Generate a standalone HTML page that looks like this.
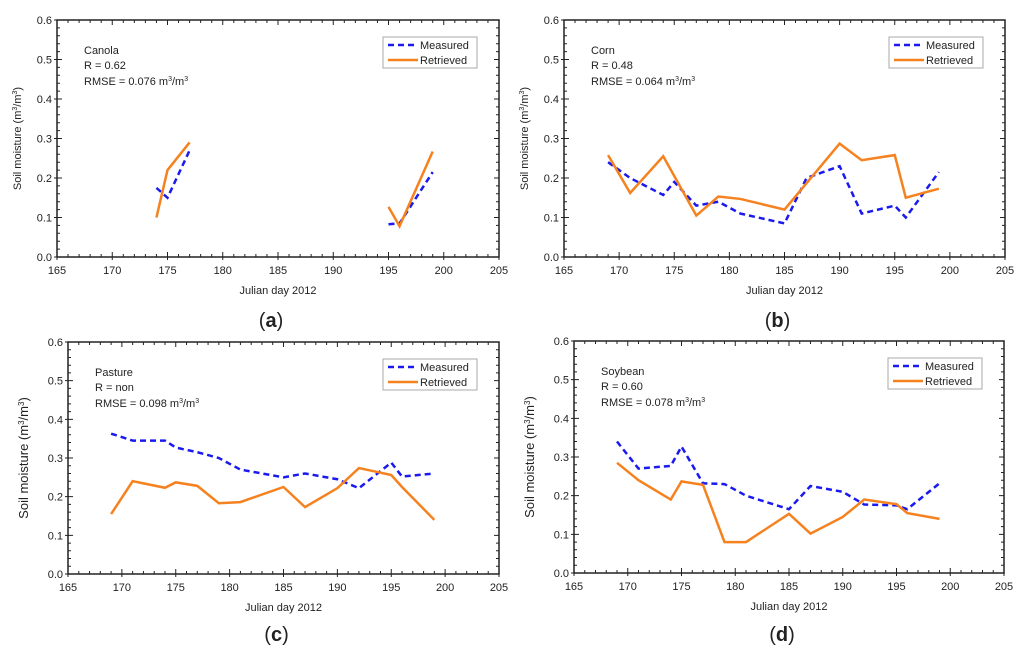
<!DOCTYPE html>
<html><head><meta charset="utf-8"><style>
html,body{margin:0;padding:0;background:#fff;width:1024px;height:658px;overflow:hidden}
svg{display:block}
text{font-family:"Liberation Sans",Arial,sans-serif;fill:#222}
</style></head><body>
<svg id="fig" width="1024" height="658" viewBox="0 0 1024 658" xmlns="http://www.w3.org/2000/svg"></svg>
<script>
const xTicks=[165,170,175,180,185,190,195,200,205];
const yTicks=[0.0,0.1,0.2,0.3,0.4,0.5,0.6];
const crops=["Canola","Corn","Pasture","Soybean"];
const rValues=["0.62","0.48","non","0.60"];
const rmseValues=["0.076","0.064","0.098","0.078"];
const panelLetters=["a","b","c","d"];
const aDays=[174,175,177,null,195,196,199];
const aMeasured=[0.175,0.15,0.27,null,0.083,0.085,0.215];
const aRetrieved=[0.10,0.22,0.29,null,0.127,0.078,0.267];
const bDaysM=[169,171,174,175,177,179,181,185,187,190,192,195,196,199];
const bMeasured=[0.24,0.20,0.157,0.19,0.13,0.14,0.11,0.085,0.20,0.23,0.11,0.13,0.10,0.215];
const bDaysR=[169,171,174,177,179,181,185,190,192,195,196,199];
const bRetrieved=[0.258,0.162,0.255,0.105,0.153,0.147,0.12,0.287,0.245,0.258,0.15,0.173];
const cdDays=[169,171,174,175,177,179,181,185,187,190,192,195,196,199];
const cMeasured=[0.363,0.345,0.345,0.327,0.315,0.30,0.27,0.25,0.26,0.245,0.222,0.288,0.252,0.26];
const cRetrieved=[0.155,0.24,0.223,0.237,0.228,0.183,0.186,0.225,0.173,0.222,0.274,0.256,0.225,0.14];
const dMeasured=[0.34,0.27,0.277,0.327,0.232,0.23,0.20,0.165,0.225,0.21,0.177,0.175,0.165,0.232];
const dRetrieved=[0.285,0.24,0.19,0.237,0.228,0.08,0.08,0.153,0.102,0.145,0.19,0.178,0.155,0.14];

const panels=[
 {L:57,R:499,T:20,B:257,mx:aDays,my:aMeasured,rx:aDays,ry:aRetrieved},
 {L:564,R:1005,T:20,B:257,mx:bDaysM,my:bMeasured,rx:bDaysR,ry:bRetrieved},
 {L:68,R:499,T:342,B:574,mx:cdDays,my:cMeasured,rx:cdDays,ry:cRetrieved},
 {L:574,R:1004,T:341,B:573,mx:cdDays,my:dMeasured,rx:cdDays,ry:dRetrieved}
];
const svg=document.getElementById('fig');
const NS="http://www.w3.org/2000/svg";
function mk(tag,attrs,parent,txt){const e=document.createElementNS(NS,tag);for(const k in attrs)e.setAttribute(k,attrs[k]);if(txt!==undefined)e.textContent=txt;parent.appendChild(e);return e;}

panels.forEach((p,i)=>{
 const g=mk('g',{},svg);
 
 
 const sx=v=>p.L+(v-165)/40*(p.R-p.L);
 const sy=v=>p.B-v/0.6*(p.B-p.T);
 let t='';
 for(let d=165;d<=205;d++){const x=sx(d);const maj=d%5===0;const len=maj?5:3;
  t+=`M${x},${p.B+(maj?3:0)}V${p.B-len}M${x},${p.T}V${p.T+len}`;}
 for(let k=0;k<=30;k++){const y=sy(k*0.02);const maj=k%5===0;const len=maj?5:3;
  t+=`M${p.L-(maj?3:0)},${y}H${p.L+len}M${p.R},${y}H${p.R-len}`;}
 const ticks=mk('path',{d:t,stroke:'#222','stroke-width':1,fill:'none'},g);
 
 
 const frame=mk('rect',{x:p.L,y:p.T,width:p.R-p.L,height:p.B-p.T,fill:'none',stroke:'#222','stroke-width':1.5},g);
 
 
 xTicks.forEach(v=>{const e=mk('text',{x:sx(v),y:p.B+17,'text-anchor':'middle','font-size':11},g,String(v));
  
  });
 yTicks.forEach(v=>{const e=mk('text',{x:p.L-5,y:sy(v)+4,'text-anchor':'end','font-size':11},g,v.toFixed(1));
  
  });
 const xt=mk('text',{x:(p.L+p.R)/2,y:p.B+37,'text-anchor':'middle','font-size':11},g,'Julian day 2012');
 
 
 const big=i>=2;
 const yc=(p.T+p.B)/2, yx=p.L-(big?40:36);
 const yt=mk('text',{x:yx,y:yc,'text-anchor':'middle','font-size':big?13:11,transform:`rotate(-90 ${yx} ${yc})`},g);
 
 
 yt.innerHTML='Soil moisture (m<tspan dy="-4" font-size="'+(big?8:7)+'">3</tspan><tspan dy="4">/m</tspan><tspan dy="-4" font-size="'+(big?8:7)+'">3</tspan><tspan dy="4">)</tspan>';
 const tx=p.L+27, ty=p.T+34;
 const s1=mk('text',{x:tx,y:ty,'font-size':11},g,crops[i]);
 
 
 const s2=mk('text',{x:tx,y:ty+15,'font-size':11},g,'R = '+rValues[i]);
 
 
 const s3=mk('text',{x:tx,y:ty+31,'font-size':11},g);
 
 
 s3.innerHTML='RMSE = '+rmseValues[i]+' m<tspan dy="-4" font-size="7">3</tspan><tspan dy="4">/m</tspan><tspan dy="-4" font-size="7">3</tspan>';
 function line(xs,ys,dash,color,name){
  let d='',pen=false;
  xs.forEach((x,j)=>{if(x===null||ys[j]===null){pen=false;return;}d+=(pen?'L':'M')+sx(x)+','+sy(ys[j]);pen=true;});
  const e=mk('path',{d:d,fill:'none',stroke:color,'stroke-width':2.5,'stroke-dasharray':dash},g);
  
  
 }
 line(p.mx,p.my,'6,4','#1a1aee','measured-line');
 line(p.rx,p.ry,'none','#f5821f','retrieved-line');
 const lx=p.R-116, ly=p.T+17;
 const lg=mk('g',{},g);
 
 
 mk('rect',{x:lx,y:ly,width:94,height:31,fill:'#fff',stroke:'#aaa','stroke-width':1},lg);
 mk('path',{d:`M${lx+5},${ly+8}H${lx+32}`,stroke:'#1a1aee','stroke-width':2.5,'stroke-dasharray':'6,4'},lg);
 const l1=mk('text',{x:lx+37,y:ly+12,'font-size':11},lg,'Measured');
 
 
 mk('path',{d:`M${lx+5},${ly+23}H${lx+35}`,stroke:'#f5821f','stroke-width':2.5},lg);
 const l2=mk('text',{x:lx+37,y:ly+27,'font-size':11},lg,'Retrieved');
 
 
 const pl=mk('text',{x:(p.L+p.R)/2-7,y:(i<2?327:641),'text-anchor':'middle','font-size':20,'font-family':'Liberation Serif,serif'},g);
 
 
 pl.innerHTML='(<tspan font-weight="bold">'+panelLetters[i]+'</tspan>)';
});
</script>
</body></html>
